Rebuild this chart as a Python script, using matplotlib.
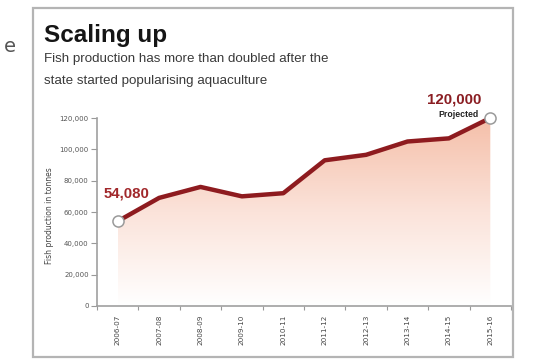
import matplotlib
matplotlib.use("Agg")
import matplotlib.pyplot as plt
import numpy as np
from matplotlib.colors import LinearSegmentedColormap
from matplotlib.patches import Rectangle

W, H = 538, 361

YEARS = ["2006-07", "2007-08", "2008-09", "2009-10", "2010-11",
         "2011-12", "2012-13", "2013-14", "2014-15", "2015-16"]
PRODUCTION = [54080, 69000, 76000, 70000, 72000, 93000, 96500, 105000, 107000, 120000]
Y_TICKS = [0, 20000, 40000, 60000, 80000, 100000, 120000]

NARROW = ["Liberation Sans", "DejaVu Sans"]
LINE_RED = "#8e1b1f"


def px(x, y):
    # pixel coords (top-left origin) -> figure fraction
    return x / W, 1 - y / H


fig = plt.figure(figsize=(W / 100, H / 100), dpi=100)
fig.patch.set_facecolor("white")

# outer frame of the graphic
fx, fy = px(33, 357)
fig.add_artist(Rectangle((fx, fy), 480 / W, 349 / H, transform=fig.transFigure,
                         fill=False, ec="#b4b4b4", lw=1.6))
fig.text(*px(4, 52), "e", fontsize=14, color="#555555", family="DejaVu Sans")

fig.text(*px(44, 42), "Scaling up", fontsize=17.5, fontweight="bold",
         color="#151515", family=["Liberation Sans", "DejaVu Sans"])
fig.text(*px(44, 62), "Fish production has more than doubled after the",
         fontsize=9.6, color="#3a3a3a", family=NARROW)
fig.text(*px(44, 84), "state started popularising aquaculture",
         fontsize=9.6, color="#3a3a3a", family=NARROW)

l, b = px(97, 306)
_, t = px(0, 118)
ax = fig.add_axes([l, b, 414 / W, t - b])

x = np.arange(len(YEARS))
vals = np.array(PRODUCTION)

# gradient fill under the line
cmap = LinearSegmentedColormap.from_list("peach", ["#ffffff", "#fbe3da", "#f5bfa9"])
grad = np.linspace(0, 1, 256).reshape(-1, 1)
poly = ax.fill_between(x, vals, 0, color="none", lw=0)
im = ax.imshow(grad, extent=[x[0], x[-1], 0, 120000], origin="lower",
               aspect="auto", cmap=cmap, zorder=1)
im.set_clip_path(poly.get_paths()[0], transform=ax.transData)

ax.plot(x, vals, color=LINE_RED, lw=3.2, solid_joinstyle="round", zorder=3, clip_on=False)
ax.plot([x[0], x[-1]], [vals[0], vals[-1]], ls="none", marker="o", ms=8,
        mfc="white", mec="#9a9a9a", mew=1.1, zorder=4, clip_on=False)

ax.set_xlim(-0.5, len(YEARS) - 0.5)
ax.set_ylim(0, 120000)
ax.set_yticks(Y_TICKS)
ax.set_yticklabels([f"{v:,}" for v in Y_TICKS])
ax.set_xticks(x)
ax.set_xticklabels(YEARS, rotation=90)
ax.set_xticks(np.arange(len(YEARS) + 1) - 0.5, minor=True)
ax.tick_params(axis="x", which="major", length=0, pad=6, labelsize=5.2, labelcolor="#444444")
ax.tick_params(axis="x", which="minor", length=3, color="#999999", width=0.8)
ax.tick_params(axis="y", length=4, color="#999999", width=0.8, labelsize=5,
               labelcolor="#555555", pad=2)
for s in ("top", "right"):
    ax.spines[s].set_visible(False)
for s in ("left", "bottom"):
    ax.spines[s].set_color("#a0a0a0")
    ax.spines[s].set_linewidth(1.2)
ax.set_ylabel("Fish production in tonnes", fontsize=5.5, color="#444444")
ax.yaxis.set_label_coords(-0.105, 0.48)

fig.text(*px(104, 197), "54,080", fontsize=10.8, color="#a1282b",
         fontweight="bold", family=NARROW)
fig.text(*px(481, 103), "120,000", fontsize=10.8, color="#8a1d22",
         fontweight="bold", family=NARROW, ha="right")
fig.text(*px(479, 117), "Projected", fontsize=6.3, color="#222222",
         fontweight="bold", family=NARROW, ha="right")

fig.savefig("out.png", dpi=100, facecolor="white")
